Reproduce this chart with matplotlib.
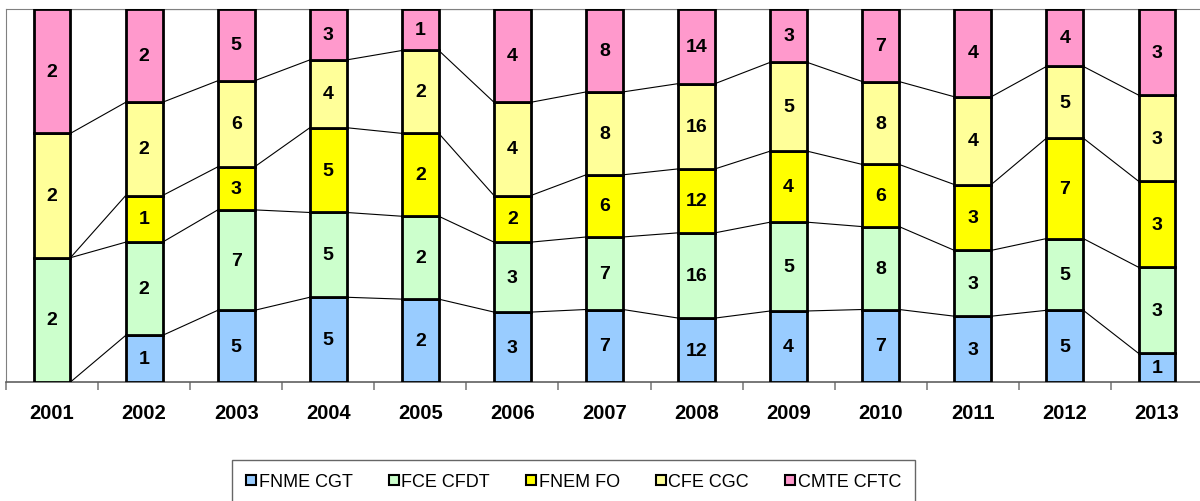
import numpy as np
import matplotlib.pyplot as plt
from matplotlib.patches import Patch

plt.rcParams['font.family'] = ['Liberation Sans', 'DejaVu Sans']

years = ["2001", "2002", "2003", "2004", "2005", "2006", "2007",
         "2008", "2009", "2010", "2011", "2012", "2013"]
fnme_cgt = [0, 1, 5, 5, 2, 3, 7, 12, 4, 7, 3, 5, 1]
fce_cfdt = [2, 2, 7, 5, 2, 3, 7, 16, 5, 8, 3, 5, 3]
fnem_fo = [0, 1, 3, 5, 2, 2, 6, 12, 4, 6, 3, 7, 3]
cfe_cgc = [2, 2, 6, 4, 2, 4, 8, 16, 5, 8, 4, 5, 3]
cmte_cftc = [2, 2, 5, 3, 1, 4, 8, 14, 3, 7, 4, 4, 3]

names = ["FNME CGT", "FCE CFDT", "FNEM FO", "CFE CGC", "CMTE CFTC"]
colors = ["#99CCFF", "#CCFFCC", "#FFFF00", "#FFFF99", "#FF99CC"]

counts = np.array([fnme_cgt, fce_cfdt, fnem_fo, cfe_cgc, cmte_cftc], dtype=float)
shares = counts / counts.sum(axis=0)
x = np.arange(len(years))
w = 0.40

fig = plt.figure(figsize=(12, 5.02), dpi=100)
ax = fig.add_axes([0.005, 0.237, 0.9975, 0.743])

bottom = np.zeros(len(years))
for k in range(len(names)):
    ax.bar(x, shares[k], w, bottom=bottom, color=colors[k],
           edgecolor="black", linewidth=2, zorder=3)
    for i in range(len(years)):
        if counts[k, i] > 0:
            ax.text(x[i], bottom[i] + shares[k, i] / 2, str(int(counts[k, i])),
                    ha="center", va="center", fontsize=14, fontweight="bold", zorder=4)
    bottom = bottom + shares[k]
    # series lines between neighbouring bars
    for i in range(len(years) - 1):
        ax.plot([x[i] + w / 2, x[i + 1] - w / 2], [bottom[i], bottom[i + 1]],
                color="black", linewidth=0.8, zorder=2)

ax.set_xlim(-0.5, len(years) - 0.5)
ax.set_ylim(0, 1)
ax.set_yticks([])
ax.set_xticks(x)
ax.set_xticklabels(years, fontsize=14.5, fontweight="bold")
ax.set_xticks(np.arange(-0.5, len(years), 1), minor=True)
ax.tick_params(axis="x", which="major", length=0, pad=15)
ax.tick_params(axis="x", which="minor", length=6, color="#808080", width=1.2)
for s in ["top", "left", "right"]:
    ax.spines[s].set_color("#808080")
ax.spines["bottom"].set_color("#606060")
ax.spines["bottom"].set_linewidth(1.2)

handles = [Patch(facecolor=c, edgecolor="black", linewidth=1.5, label=n)
           for c, n in zip(colors, names)]
leg = fig.legend(handles=handles, loc="center", bbox_to_anchor=(0.478, 0.038),
                 ncol=5, frameon=True, fancybox=False, fontsize=13,
                 handlelength=0.55, handleheight=0.55, handletextpad=0.15,
                 columnspacing=2.0, borderpad=0.75, borderaxespad=0)
leg.get_frame().set_edgecolor("#404040")
leg.get_frame().set_linewidth(1)

fig.savefig("out.png", dpi=100)
